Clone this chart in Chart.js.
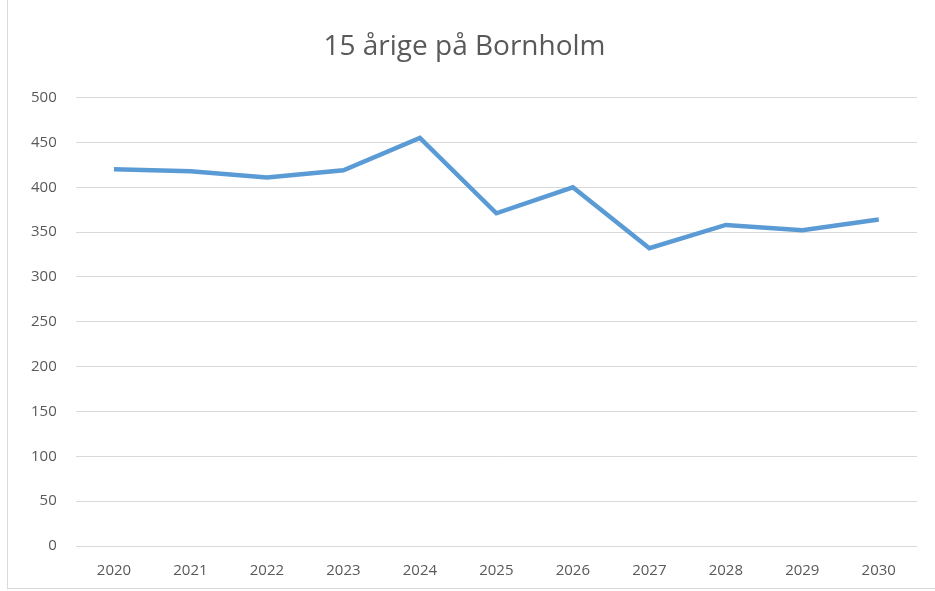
<!DOCTYPE html>
<html>
<head>
<meta charset="utf-8">
<script src="https://cdn.jsdelivr.net/npm/chart.js@4/dist/chart.umd.min.js"></script>
<style>
  html, body { margin: 0; padding: 0; background: #fff; }
  #wrap { position: absolute; left: 0; top: 0; width: 935px; height: 591px; }
  #frame { position: absolute; left: 7px; top: -1px; width: 940px; height: 590px; border: 1px solid #d9d9d9; box-sizing: border-box; }
</style>
</head>
<body>
<div id="wrap">
  <div id="frame"></div>
  <canvas id="chart" width="935" height="591"></canvas>
</div>
<script>
var years = ['2020', '2021', '2022', '2023', '2024', '2025', '2026', '2027', '2028', '2029', '2030'];
var antal = [420, 418, 411, 419, 455, 371, 400, 332, 358, 352, 364];

var grey = '#595959';

var ctx = document.getElementById('chart').getContext('2d');
var chart = new Chart(ctx, {
    type: 'line',
    data: {
        labels: years,
        datasets: [{
            label: '15 årige',
            data: antal,
            borderColor: '#5B9BD5',
            backgroundColor: '#5B9BD5',
            borderWidth: 4.5,
            pointRadius: 0,
            tension: 0,
            fill: false
        }]
    },
    options: {
        responsive: false,
        animation: false,
        layout: { padding: { left: 12, right: 18, top: 30, bottom: 3 } },
        plugins: {
            legend: { display: false },
            tooltip: { enabled: false },
            title: {
                display: true,
                text: '15 årige på Bornholm',
                color: grey,
                font: { family: 'Open Sans', size: 28, weight: 'normal' },
                padding: { top: 0, bottom: 34 }
            }
        },
        scales: {
            x: {
                offset: true,
                grid: { display: false },
                border: { display: false },
                ticks: { color: grey, font: { family: 'Open Sans', size: 15 }, padding: 8 }
            },
            y: {
                min: 0,
                max: 500,
                ticks: { stepSize: 50, color: grey, font: { family: 'Open Sans', size: 15 }, padding: 19 },
                grid: { color: '#d9d9d9', lineWidth: 1, drawTicks: false },
                border: { display: false }
            }
        }
    }
});
</script>
</body>
</html>
